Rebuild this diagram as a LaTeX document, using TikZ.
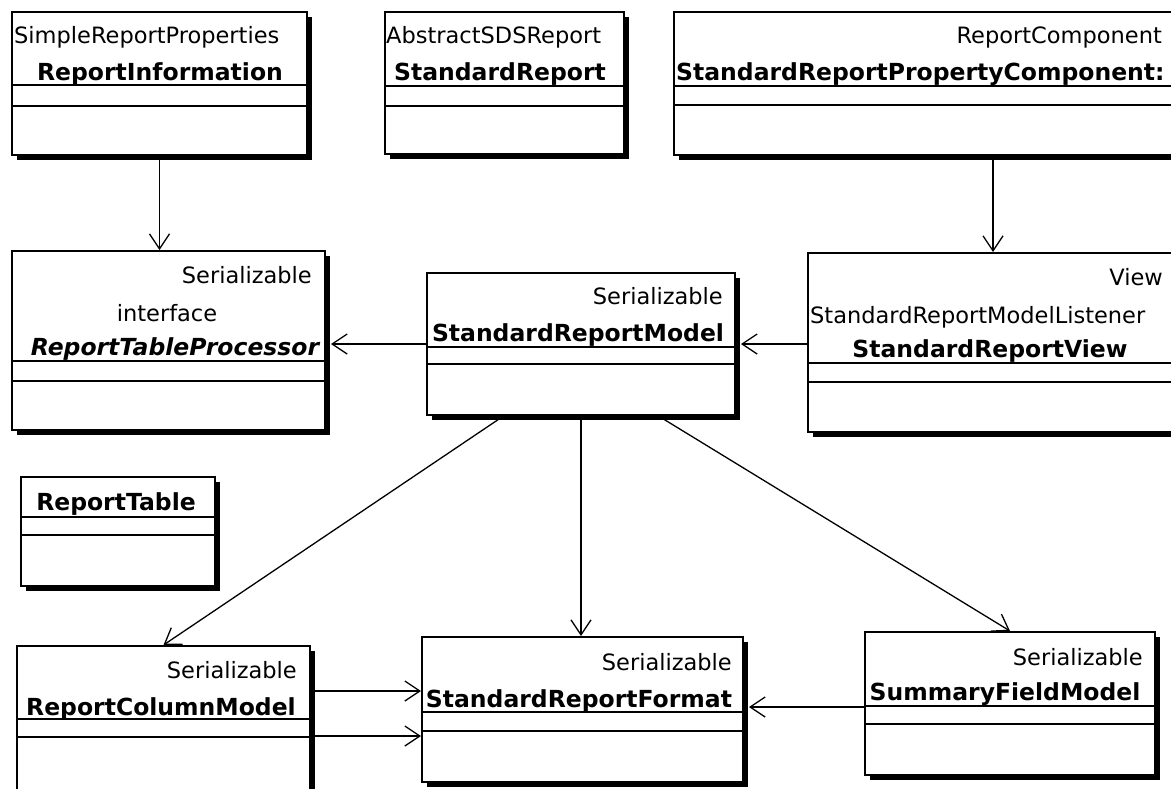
\documentclass[tikz,border=0pt]{standalone}
\usepackage{fontspec}
\setmainfont{DejaVu Sans}
\usetikzlibrary{arrows.meta,calc,fit}

% class box: name, x1, y1, x2, y2, first and second compartment line
\newcommand\umlclass[7]{%
  \fill[shadowbox] (#2+5,#3+5) rectangle (#4+5,#5+5);
  \node[cls, fit={(#2,#3) (#4,#5)}] (#1) {};
  \draw[compart] (#2,#6) -- (#4,#6);
  \draw[compart] (#2,#7) -- (#4,#7);
}

\begin{document}
\begin{tikzpicture}[x=1pt,y=-1pt,
  cls/.style={draw, line width=2pt, fill=white, inner sep=0pt},
  shadowbox/.style={fill=black},
  compart/.style={line width=2pt},
  stereo/.style={font=\fontsize{22.5}{26}\selectfont, inner sep=0pt},
  cname/.style={font=\fontsize{23.5}{27}\selectfont\bfseries, inner sep=0pt},
  iname/.style={font=\fontsize{23.5}{27}\selectfont\bfseries\itshape, inner sep=0pt},
  assoc/.style={line width=1.3pt, -{Straight Barb[length=15pt,width=20pt]}}
]
\useasboundingbox (0,0) rectangle (1171,788);
\clip (0,0) rectangle (1171,788);
\fill[white] (0,0) rectangle (1171,788);

% classes
\umlclass{ri}{12}{12}{307}{155}{85}{106}
\umlclass{sr}{385}{12}{624}{154}{86}{106}
\umlclass{srpc}{674}{12}{1312}{155}{86}{105}
\umlclass{rtp}{12}{251}{325}{430}{361}{381}
\umlclass{srm}{427}{273}{735}{415}{347}{364}
\umlclass{srv}{808}{253}{1178}{432}{363}{382}
\umlclass{rt}{21}{477}{215}{586}{517}{535}
\umlclass{rcm}{17}{646}{310}{810}{719}{737}
\umlclass{srf}{422}{637}{743}{782}{712}{731}
\umlclass{sfm}{865}{632}{1155}{775}{706}{724}

% class headers
\node[stereo, anchor=base west] (riP) at (14,43) {SimpleReportProperties};
\node[cname, anchor=base] (riN) at (160,80) {ReportInformation};

\node[stereo, anchor=base west] (srP) at (386,43) {AbstractSDSReport};
\node[cname, anchor=base] (srN) at (500,80) {StandardReport};

\node[stereo, anchor=base east] (srpcP) at (1162,43) {ReportComponent};
\node[cname, anchor=base west] (srpcN) at (676,80) {StandardReportPropertyComponent:};

\node[stereo, anchor=base east] (rtpS) at (312,283) {Serializable};
\node[stereo, anchor=base] (rtpI) at (167,321) {interface};
\node[iname, anchor=base] (rtpN) at (175,355) {ReportTableProcessor};

\node[stereo, anchor=base east] (srmS) at (723,304) {Serializable};
\node[cname, anchor=base] (srmN) at (578,341) {StandardReportModel};

\node[stereo, anchor=base east] (srvS) at (1163,285) {View};
\node[stereo, anchor=base west] (srvL) at (810,323) {StandardReportModelListener};
\node[cname, anchor=base] (srvN) at (990,357) {StandardReportView};

\node[cname, anchor=base] (rtN) at (116,510) {ReportTable};

\node[stereo, anchor=base east] (rcmS) at (297,678) {Serializable};
\node[cname, anchor=base] (rcmN) at (161,715) {ReportColumnModel};

\node[stereo, anchor=base east] (srfS) at (732,670) {Serializable};
\node[cname, anchor=base] (srfN) at (579,707) {StandardReportFormat};

\node[stereo, anchor=base east] (sfmS) at (1143,665) {Serializable};
\node[cname, anchor=base] (sfmN) at (1005,700) {SummaryFieldModel};

% associations
\draw[assoc] (ri.south) -- (ri.south |- rtp.north);
\draw[assoc] (srpc.south) -- (srv.north);
\draw[assoc] (srm.west) -- ($(rtp.east |- srm.west)+(5,0)$);
\draw[assoc] (srv.west |- srm.west) -- ($(srm.east)+(5,0)$);
\draw[assoc] ($(srm.south west)!0.25!(srm.south east)$) -- (rcm.north);
\draw[assoc] (srm.south) -- (srm.south |- srf.north);
\draw[assoc] ($(srm.south west)!0.75!(srm.south east)$) -- (sfm.north);
\draw[assoc] ($(rcm.north east)+(0,46)$) -- ($(srf.north west)+(0,55)$);
\draw[assoc] ($(rcm.north east)+(0,91)$) -- ($(srf.north west)+(0,100)$);
\draw[assoc] ($(sfm.north west)+(0,76)$) -- ($(srf.north east)+(5,71)$);
\end{tikzpicture}
\end{document}
